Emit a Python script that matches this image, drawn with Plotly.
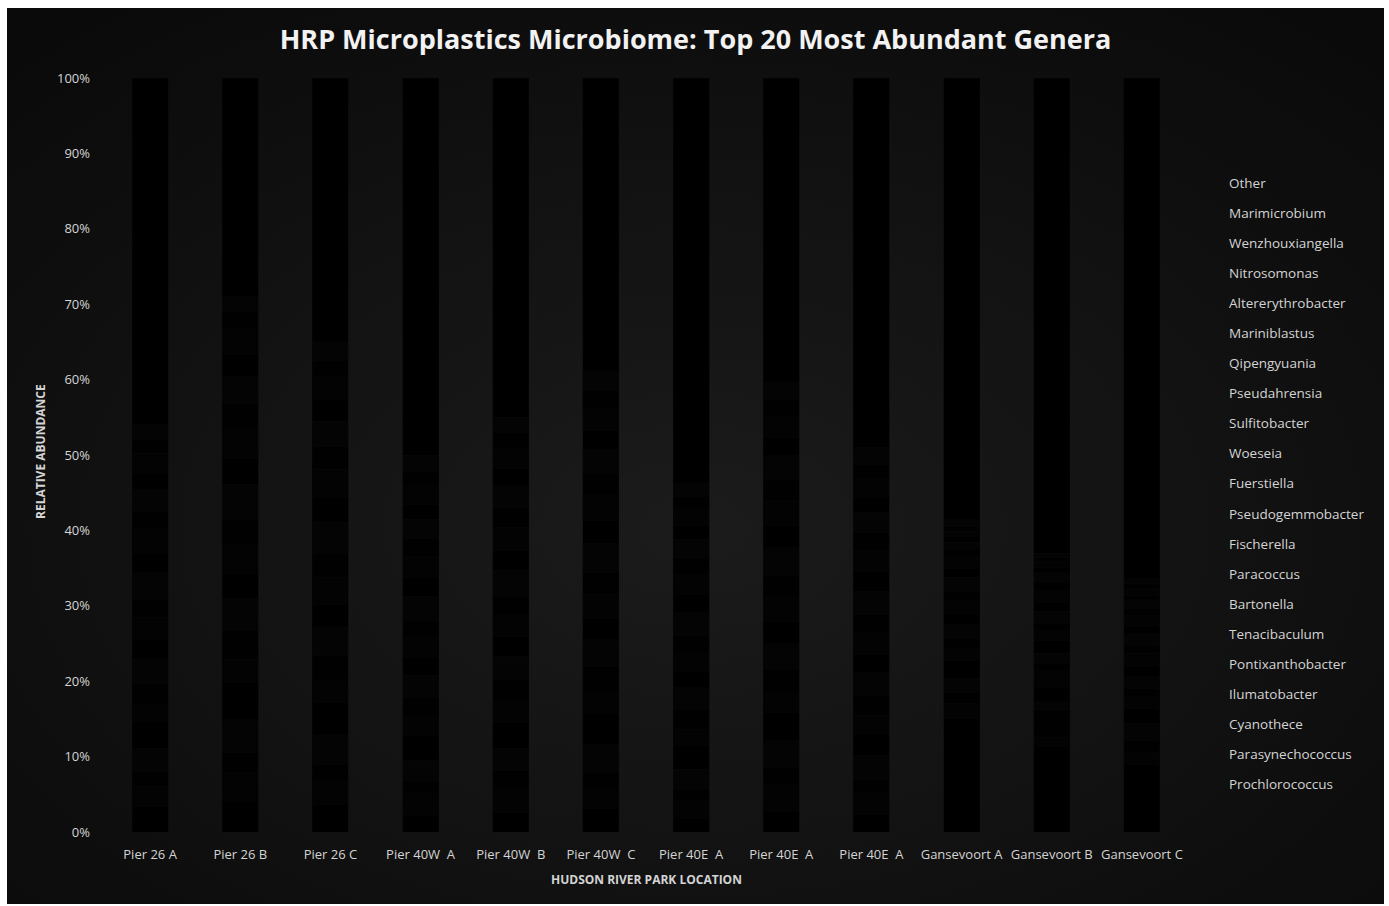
import base64
import plotly.graph_objects as go

# ---- data -------------------------------------------------------------
samples = ["Pier 26 A", "Pier 26 B", "Pier 26 C", "Pier 40W  A", "Pier 40W  B",
           "Pier 40W  C", "Pier 40E  A", "Pier 40E  A", "Pier 40E  A",
           "Gansevoort A", "Gansevoort B", "Gansevoort C"]

# genera listed bottom-of-stack first (relative abundance, %)
genera = ["Prochlorococcus", "Parasynechococcus", "Cyanothece", "Ilumatobacter",
          "Pontixanthobacter", "Tenacibaculum", "Bartonella", "Paracoccus",
          "Fischerella", "Pseudogemmobacter", "Fuerstiella", "Woeseia",
          "Sulfitobacter", "Pseudahrensia", "Qipengyuania", "Mariniblastus",
          "Altererythrobacter", "Nitrosomonas", "Wenzhouxiangella",
          "Marimicrobium", "Other"]

prochlorococcus    = [3.4, 4.1, 3.6, 2.2, 2.6, 3.1, 1.8, 2.7, 2.3, 15.0, 11.4, 8.9]
parasynechococcus  = [2.7, 3.8, 3.2, 2.9, 3.3, 2.8, 2.4, 3.6, 2.9, 2.1, 1.2, 1.7]
cyanothece         = [1.9, 2.6, 2.1, 1.6, 2.2, 2.0, 1.5, 2.3, 1.8, 1.4, 3.6, 1.5]
ilumatobacter      = [3.1, 4.4, 4.0, 2.8, 3.0, 3.7, 2.6, 3.5, 3.2, 1.9, 1.1, 2.3]
pontixanthobacter  = [3.6, 4.9, 4.3, 3.3, 3.4, 4.1, 3.2, 3.8, 2.9, 2.4, 1.8, 2.0]
tenacibaculum      = [2.2, 3.1, 2.7, 2.5, 2.8, 2.9, 2.1, 2.6, 2.4, 1.6, 2.3, 1.4]
bartonella         = [2.8, 3.9, 3.5, 2.6, 2.9, 3.3, 2.7, 3.1, 2.6, 1.3, 0.9, 1.2]
paracoccus         = [3.3, 4.2, 3.8, 2.9, 3.1, 3.6, 2.8, 3.4, 3.0, 1.8, 1.4, 1.6]
fischerella        = [2.5, 3.3, 3.0, 2.4, 2.6, 2.8, 2.2, 2.9, 2.5, 1.5, 1.7, 1.3]
pseudogemmobacter  = [3.0, 3.8, 3.6, 2.7, 2.9, 3.2, 2.5, 3.3, 2.8, 1.7, 1.3, 1.8]
fuerstiella        = [2.4, 3.4, 3.1, 2.2, 2.5, 2.9, 2.3, 2.8, 2.4, 1.2, 1.0, 1.1]
woeseia            = [3.5, 4.6, 4.2, 3.2, 3.4, 3.9, 3.0, 3.7, 3.1, 1.9, 1.6, 1.5]
sulfitobacter      = [2.6, 3.5, 3.3, 2.5, 2.7, 3.0, 2.4, 3.0, 2.6, 1.1, 1.2, 1.0]
pseudahrensia      = [3.2, 4.0, 3.7, 2.8, 3.0, 3.4, 2.6, 3.3, 2.9, 1.6, 1.5, 1.4]
qipengyuania       = [2.3, 3.2, 3.0, 2.3, 2.6, 2.9, 2.2, 2.7, 2.3, 1.0, 1.1, 0.9]
mariniblastus      = [2.9, 3.6, 3.4, 2.6, 2.9, 3.1, 2.5, 3.2, 2.7, 0.9, 1.3, 1.2]
altererythrobacter = [2.1, 2.9, 2.8, 2.0, 2.3, 2.6, 1.9, 2.4, 2.0, 0.8, 0.7, 0.6]
nitrosomonas       = [2.7, 3.3, 3.1, 2.4, 2.7, 3.0, 2.2, 2.9, 2.5, 0.7, 0.8, 0.9]
wenzhouxiangella   = [1.8, 2.4, 2.2, 1.9, 2.1, 2.3, 1.6, 2.2, 1.9, 0.6, 0.5, 0.6]
marimicrobium      = [2.0, 2.0, 2.4, 2.2, 2.0, 2.6, 1.8, 2.3, 2.2, 0.9, 0.6, 0.7]
other              = [46.0, 29.0, 35.0, 50.0, 45.0, 38.8, 53.7, 40.3, 49.0, 58.6, 63.0, 66.4]

y_ticks = [0, 10, 20, 30, 40, 50, 60, 70, 80, 90, 100]
y_tick_text = ["0%", "10%", "20%", "30%", "40%", "50%", "60%", "70%", "80%", "90%", "100%"]

series = [prochlorococcus, parasynechococcus, cyanothece, ilumatobacter,
          pontixanthobacter, tenacibaculum, bartonella, paracoccus, fischerella,
          pseudogemmobacter, fuerstiella, woeseia, sulfitobacter, pseudahrensia,
          qipengyuania, mariniblastus, altererythrobacter, nitrosomonas,
          wenzhouxiangella, marimicrobium, other]

# ---- styling ------------------------------------------------------------
W, H = 1389, 906
ML, MR, MT, MB = 105, 202, 78, 74
PW, PH = W - ML - MR, H - MT - MB

def px_x(px):
    return (px - ML) / PW

def px_y(py):
    return (H - MB - py) / PH

shades = ["#000000", "#030303", "#010101", "#040404"]
FONT = "Open Sans"
TEXT = "#d4d4d4"

fig = go.Figure()
x_pos = list(range(len(samples)))
for i, (name, vals) in enumerate(zip(genera, series)):
    fig.add_trace(go.Bar(
        x=x_pos, y=vals, name=name, showlegend=False,
        marker=dict(color=shades[i % len(shades)],
                    line=dict(color="#070707", width=0.4)),
        hoverinfo="name+y",
    ))

# dark panel with a soft radial glow, inset inside a thin white frame
svg = ('<svg xmlns="http://www.w3.org/2000/svg" width="1377" height="896">'
       '<defs><radialGradient id="g" cx="50%" cy="58%" r="72%">'
       '<stop offset="0" stop-color="#1b1b1b"/>'
       '<stop offset="1" stop-color="#0a0a0a"/></radialGradient></defs>'
       '<rect width="100%" height="100%" fill="url(#g)"/></svg>')
bg_src = "data:image/svg+xml;base64," + base64.b64encode(svg.encode()).decode()
panel_l, panel_t, panel_r, panel_b = 7, 8, 1384, 904

# legend as plain text labels (the series swatches are black on black)
legend_top, legend_step = 183, 30.05
legend_notes = [
    dict(text=name, x=px_x(1226.5), y=px_y(legend_top + k * legend_step),
         xref="paper", yref="paper", xanchor="left", yanchor="middle",
         showarrow=False, font=dict(family=FONT, size=13.5, color=TEXT))
    for k, name in enumerate(reversed(genera))
]

fig.update_layout(
    width=W, height=H,
    margin=dict(l=ML, r=MR, t=MT, b=MB),
    paper_bgcolor="#ffffff",
    plot_bgcolor="rgba(0,0,0,0)",
    barmode="stack",
    barnorm="percent",
    bargap=0.6,
    images=[dict(source=bg_src, xref="paper", yref="paper",
                 x=px_x(panel_l), y=px_y(panel_t),
                 sizex=(panel_r - panel_l) / PW, sizey=(panel_b - panel_t) / PH,
                 xanchor="left", yanchor="top", sizing="stretch",
                 layer="below")],
    title=dict(text="<b>HRP Microplastics Microbiome: Top 20 Most Abundant Genera</b>",
               x=px_x(695.5), xanchor="center", xref="paper",
               y=1 - 40 / H, yanchor="middle", yref="container",
               font=dict(family=FONT, size=27, color="#f2f2f2")),
    xaxis=dict(tickvals=x_pos, ticktext=samples, range=[-0.5, len(samples) - 0.5],
               showgrid=False, zeroline=False, showline=False, ticks="",
               ticklabelstandoff=13,
               tickfont=dict(family=FONT, size=13, color=TEXT)),
    yaxis=dict(range=[0, 100], tickvals=y_ticks, ticktext=y_tick_text,
               showgrid=False, zeroline=False, showline=False, ticks="",
               ticklabelstandoff=14,
               tickfont=dict(family=FONT, size=13, color=TEXT)),
    annotations=[
        dict(text="<b>RELATIVE ABUNDANCE</b>", textangle=-90,
             x=px_x(40), y=px_y(452), xref="paper", yref="paper",
             xanchor="center", yanchor="middle",
             showarrow=False, font=dict(family=FONT, size=12, color=TEXT)),
        dict(text="<b>HUDSON RIVER PARK LOCATION</b>",
             x=0.5, y=px_y(879), xref="paper", yref="paper",
             xanchor="center", yanchor="middle",
             showarrow=False, font=dict(family=FONT, size=12, color=TEXT)),
    ] + legend_notes,
)

fig.write_html("out.html")
